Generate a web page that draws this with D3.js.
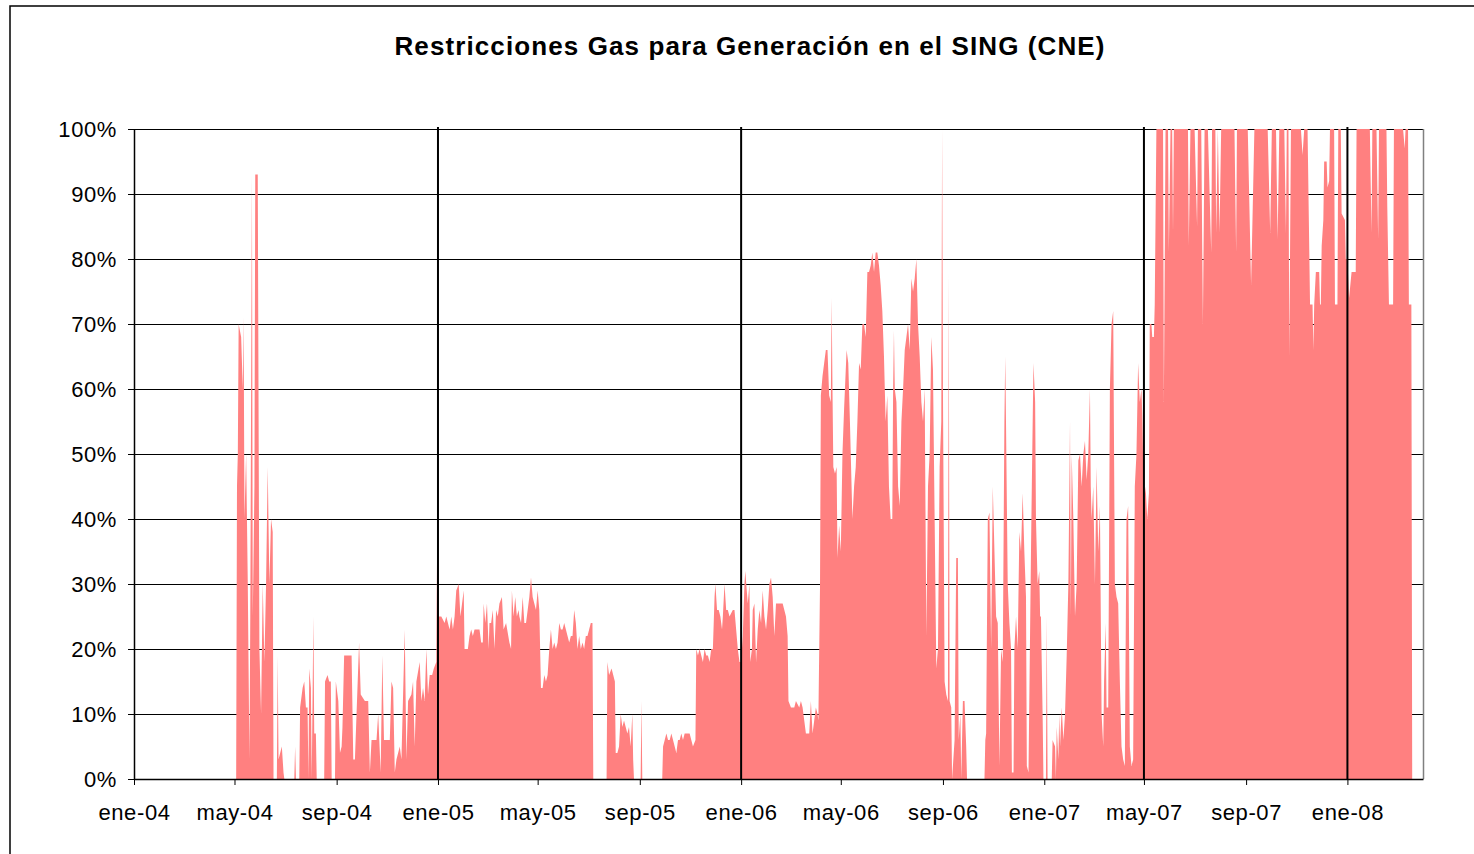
<!DOCTYPE html>
<html>
<head>
<meta charset="utf-8">
<script src="https://cdn.jsdelivr.net/npm/d3@7"></script>
<style>
  body { margin: 0; background: #fff; }
  svg text { font-family: "Liberation Sans", Arial, sans-serif; fill: #000; }
</style>
</head>
<body>
<div id="chart"></div>
<script>
// textos y fechas del gráfico
const titulo = 'Restricciones Gas para Generación en el SING (CNE)';
const fechaInicio = '2004-01-01';
const fechaFin = '2008-04-01';
const ticksX = ['2004-01-01', '2004-05-01', '2004-09-01', '2005-01-01', '2005-05-01', '2005-09-01',
  '2006-01-01', '2006-05-01', '2006-09-01', '2007-01-01', '2007-05-01', '2007-09-01', '2008-01-01'];
const lineasVerticales = ['2005-01-01', '2006-01-01', '2007-05-01', '2008-01-01'];
const ticksY = [0, 10, 20, 30, 40, 50, 60, 70, 80, 90, 100];

// [días desde fechaInicio, % restricción]
const serie2004 = [[0,0],[123,0],[124,45],[125,50],[126,70],[129,68],[131,60],[132,71],[133,40],[135,50],[137,30],[139,3],[140,25],[142,93],[143,25],[145,45],[146,93],[149,93],[151,20],[153,10],[155,30],[157,18],[159,30],[161,48],[163,30],[165,40],[167,38],[168,0],[172,0],[173,19],[174,3],[176,4],[178,5],[180,1],[181,0],[193,0],[194,5],[195,0],[199,0],[200,11],[203,14],[205,15],[207,11],[209,11],[210,0],[211,17],[213,14],[214,0],[216,25],[217,7],[219,7],[220,0],[229,0],[230,15],[233,16],[235,15],[237,15],[238,0],[242,0],[243,15],[246,12],[248,4],[250,5],[251,8],[253,19],[256,19],[262,19],[264,3],[266,3],[271,21],[273,13],[278,12],[282,12],[284,1],[286,6],[292,6],[294,10],[297,1],[299,19],[301,6],[308,6],[310,15],[312,14],[314,1],[316,3],[320,5],[322,3],[326,23],[328,3],[330,12],[334,13],[336,15],[338,5],[340,15],[344,18],[346,12],[348,14],[350,12],[352,20],[354,13],[356,16],[359,16],[361,17],[364,18],[365,37]];
const serie2005 = [[366,25],[370,25],[374,24],[376,25],[380,23],[382,25],[384,23],[386,25],[388,29],[391,30],[393,25],[395,27],[397,29],[398,20],[402,20],[404,22],[406,23],[408,22],[410,23],[416,23],[418,21],[420,21],[421,27],[423,24],[425,27],[427,20],[428,24],[430,24],[432,26],[434,20],[436,26],[438,25],[440,27],[443,28],[445,23],[448,24],[452,21],[454,20],[455,29],[457,25],[459,28],[461,25],[463,26],[464,25],[466,24],[468,28],[470,24],[472,24],[474,26],[476,28],[478,31],[480,28],[482,27],[484,26],[486,29],[488,26],[490,14],[492,14],[494,16],[496,15],[498,16],[500,20],[502,23],[504,20],[506,21],[508,20],[510,21],[512,24],[514,23],[516,23],[518,24],[520,23],[522,22],[524,21],[526,22],[528,22],[530,26],[532,24],[534,20],[536,22],[538,20],[540,21],[542,20],[544,22],[546,22],[548,23],[550,24],[552,24],[553,0],[569,0],[570,18],[572,16],[575,17],[577,16],[579,15],[580,4],[582,4],[584,5],[586,10],[588,8],[590,9],[592,8],[594,7],[596,8],[598,5],[600,10],[601,3],[602,0],[610,0],[611,12],[612,0],[636,0],[637,5],[639,6],[641,7],[643,6],[645,6],[647,7],[649,6],[651,5],[653,4],[655,6],[657,6],[659,7],[661,6],[663,7],[669,7],[671,6],[673,5],[676,6],[677,20],[679,19],[681,20],[683,19],[685,18],[687,20],[689,19],[691,19],[693,18],[695,20],[697,20],[699,28],[700,30],[702,26],[704,26],[706,25],[708,23],[709,25],[711,30],[713,26],[715,26],[717,25],[721,26],[723,26],[725,23],[727,20],[729,18],[730,18]];
const serie2006 = [[731,18],[733,22],[735,30],[736,32],[739,27],[741,30],[742,18],[744,20],[745,26],[747,27],[749,18],[751,23],[753,26],[755,24],[757,29],[759,25],[761,23],[763,26],[765,30],[767,31],[769,28],[771,22],[773,27],[781,27],[783,26],[785,25],[787,22],[788,12],[791,11],[795,11],[797,12],[801,11],[803,12],[805,11],[807,9],[809,7],[813,7],[815,12],[817,7],[819,9],[821,11],[823,10],[824,9],[826,30],[827,59],[829,62],[831,64],[833,66],[835,66],[837,59],[839,58],[840,74],[841,60],[842,48],[844,47],[846,48],[847,34],[849,39],[851,35],[853,50],[855,57],[858,66],[860,64],[862,55],[863,50],[865,40],[867,45],[869,48],[871,55],[873,64],[875,63],[877,70],[879,70],[881,68],[883,78],[885,78],[887,79],[889,81],[891,78],[893,81],[895,81],[897,79],[899,76],[901,72],[903,65],[905,55],[907,59],[909,45],[911,40],[913,40],[914,60],[915,69],[916,60],[918,58],[920,45],[922,42],[924,55],[926,60],[928,66],[930,68],[932,70],[934,66],[936,77],[938,75],[940,77],[942,80],[944,70],[946,65],[948,58],[950,55],[952,60],[954,22],[956,45],[958,50],[960,68],[962,63],[964,40],[966,17],[968,20],[970,48],[972,55],[973,100],[974,60],[976,15],[978,13],[980,12],[981,78],[982,12],[984,11],[985,0],[988,6],[990,34],[992,34],[993,6],[995,10],[996,0],[998,12],[1000,12],[1002,5],[1003,0],[1024,0],[1025,6],[1026,7],[1028,40],[1030,41],[1032,20],[1034,45],[1036,35],[1038,25],[1040,24],[1042,2],[1044,20],[1046,18],[1048,55],[1049,65],[1050,54],[1052,30],[1054,24],[1056,20],[1057,1],[1059,1],[1060,20],[1062,25],[1064,20],[1066,38],[1068,35],[1070,44],[1072,35],[1074,28],[1075,2],[1077,1],[1080,35],[1081,45],[1083,64],[1085,58],[1086,40],[1088,30],[1090,32],[1091,25],[1092,25],[1094,10],[1095,0]];
const serie2007 = [[1096,0],[1098,0],[1099,25],[1100,0],[1105,0],[1106,6],[1109,5],[1110,0],[1111,8],[1113,3],[1114,10],[1115,5],[1117,11],[1119,6],[1121,10],[1123,19],[1125,30],[1127,55],[1128,25],[1129,50],[1131,40],[1133,25],[1135,30],[1137,49],[1139,50],[1141,45],[1143,50],[1145,52],[1147,46],[1149,50],[1151,60],[1152,45],[1153,40],[1155,45],[1157,30],[1159,48],[1161,35],[1163,42],[1165,10],[1167,5],[1168,15],[1170,24],[1171,11],[1173,11],[1175,60],[1177,70],[1179,72],[1181,30],[1183,28],[1185,27],[1187,15],[1189,5],[1191,3],[1193,2],[1195,40],[1197,42],[1199,5],[1201,2],[1203,3],[1205,45],[1207,50],[1209,64],[1211,58],[1213,60],[1214,56],[1216,42],[1218,45],[1220,40],[1222,44],[1223,70],[1225,70],[1226,68],[1228,68],[1229,73],[1231,100],[1239,100],[1240,58],[1242,100],[1245,100],[1246,81],[1248,100],[1250,100],[1251,84],[1252,100],[1269,100],[1270,82],[1272,100],[1277,100],[1280,85],[1281,100],[1285,100],[1287,70],[1289,100],[1293,100],[1297,81],[1298,100],[1302,100],[1303,84],[1305,100],[1307,84],[1309,100],[1325,100],[1327,81],[1328,100],[1341,100],[1345,76],[1349,100],[1365,100],[1368,84],[1370,100],[1375,100],[1377,83],[1379,100],[1385,100],[1387,84],[1388,100],[1390,100],[1391,65],[1393,100],[1405,100],[1407,96],[1409,100],[1413,100],[1414,91],[1416,73],[1419,73],[1420,66],[1421,73],[1423,78],[1427,78],[1428,73],[1429,73],[1430,82],[1432,86],[1433,95],[1436,95],[1437,91],[1439,92],[1440,100],[1445,100],[1446,73],[1449,73],[1450,100],[1453,100],[1454,87],[1458,86],[1459,80],[1460,80]];
const serie2008 = [[1461,80],[1463,74],[1466,78],[1471,78],[1472,100],[1488,100],[1490,84],[1491,100],[1496,100],[1498,83],[1499,100],[1508,100],[1509,88],[1511,73],[1516,73],[1517,100],[1528,100],[1530,97],[1531,100],[1534,100],[1535,73],[1538,73],[1539,0]];

const width = 1474, height = 854;
const margin = {top: 129, right: 51, bottom: 75, left: 134};
const innerW = width - margin.left - margin.right;
const innerH = height - margin.top - margin.bottom;

const parse = d3.utcParse('%Y-%m-%d');
const inicio = parse(fechaInicio);
const datos = [].concat(serie2004, serie2005, serie2006, serie2007, serie2008)
  .map(([d, v]) => ({fecha: d3.utcDay.offset(inicio, d), valor: v}));

const es = d3.timeFormatLocale({
  dateTime: '%A, %e de %B de %Y, %X', date: '%d/%m/%Y', time: '%H:%M:%S', periods: ['AM', 'PM'],
  days: ['domingo', 'lunes', 'martes', 'miércoles', 'jueves', 'viernes', 'sábado'],
  shortDays: ['dom', 'lun', 'mar', 'mié', 'jue', 'vie', 'sáb'],
  months: ['enero', 'febrero', 'marzo', 'abril', 'mayo', 'junio', 'julio', 'agosto', 'septiembre', 'octubre', 'noviembre', 'diciembre'],
  shortMonths: ['ene', 'feb', 'mar', 'abr', 'may', 'jun', 'jul', 'ago', 'sep', 'oct', 'nov', 'dic']
});
const fmtMes = es.utcFormat('%b-%y');

const svg = d3.select('#chart')
  .append('svg')
  .attr('width', width)
  .attr('height', height);

// marco exterior
svg.append('rect')
  .attr('x', 10).attr('y', 6)
  .attr('width', width + 20).attr('height', height + 20)
  .attr('fill', 'none')
  .attr('stroke', '#000')
  .attr('stroke-width', 1.5);

svg.append('text')
  .attr('x', 750)
  .attr('y', 55)
  .attr('text-anchor', 'middle')
  .style('font-size', '26px')
  .style('font-weight', 'bold')
  .style('letter-spacing', '1.1px')
  .text(titulo);

const g = svg.append('g')
  .attr('transform', `translate(${margin.left},${margin.top})`);

const x = d3.scaleUtc()
  .domain([parse(fechaInicio), parse(fechaFin)])
  .range([0, innerW]);
const y = d3.scaleLinear()
  .domain([0, 100])
  .range([innerH, 0]);

// líneas de división
g.selectAll('.grid')
  .data(ticksY.filter(t => t > 0))
  .join('line')
  .attr('x1', 0).attr('x2', innerW)
  .attr('y1', d => Math.round(y(d)) + 0.5)
  .attr('y2', d => Math.round(y(d)) + 0.5)
  .attr('stroke', '#000')
  .attr('stroke-width', 1);

const area = d3.area()
  .x(d => x(d.fecha))
  .y0(y(0))
  .y1(d => y(d.valor));

g.append('path')
  .datum(datos)
  .attr('fill', '#ff8080')
  .attr('d', area);

// borde derecho del área de trazado
g.append('line')
  .attr('x1', innerW + 0.5).attr('x2', innerW + 0.5)
  .attr('y1', 0).attr('y2', innerH)
  .attr('stroke', '#808080')
  .attr('stroke-width', 1.5);

g.selectAll('.vline')
  .data(lineasVerticales.map(parse))
  .join('line')
  .attr('x1', d => x(d)).attr('x2', d => x(d))
  .attr('y1', -2).attr('y2', innerH)
  .attr('stroke', '#000')
  .attr('stroke-width', 2);

const ejeX = g.append('g')
  .attr('transform', `translate(0,${innerH})`)
  .call(d3.axisBottom(x)
    .tickValues(ticksX.map(parse))
    .tickFormat(fmtMes)
    .tickSize(6)
    .tickSizeOuter(0)
    .tickPadding(19));

const ejeY = g.append('g')
  .call(d3.axisLeft(y)
    .tickValues(ticksY)
    .tickFormat(d => d + '%')
    .tickSize(6)
    .tickSizeOuter(0)
    .tickPadding(11));

[ejeX, ejeY].forEach(eje => {
  eje.select('.domain').attr('stroke', '#000').attr('stroke-width', 1.5);
  eje.selectAll('.tick line').attr('stroke', '#000');
  eje.selectAll('text')
    .style('font-size', '22px')
    .style('letter-spacing', '0.6px')
    .attr('fill', '#000');
});
</script>
</body>
</html>
